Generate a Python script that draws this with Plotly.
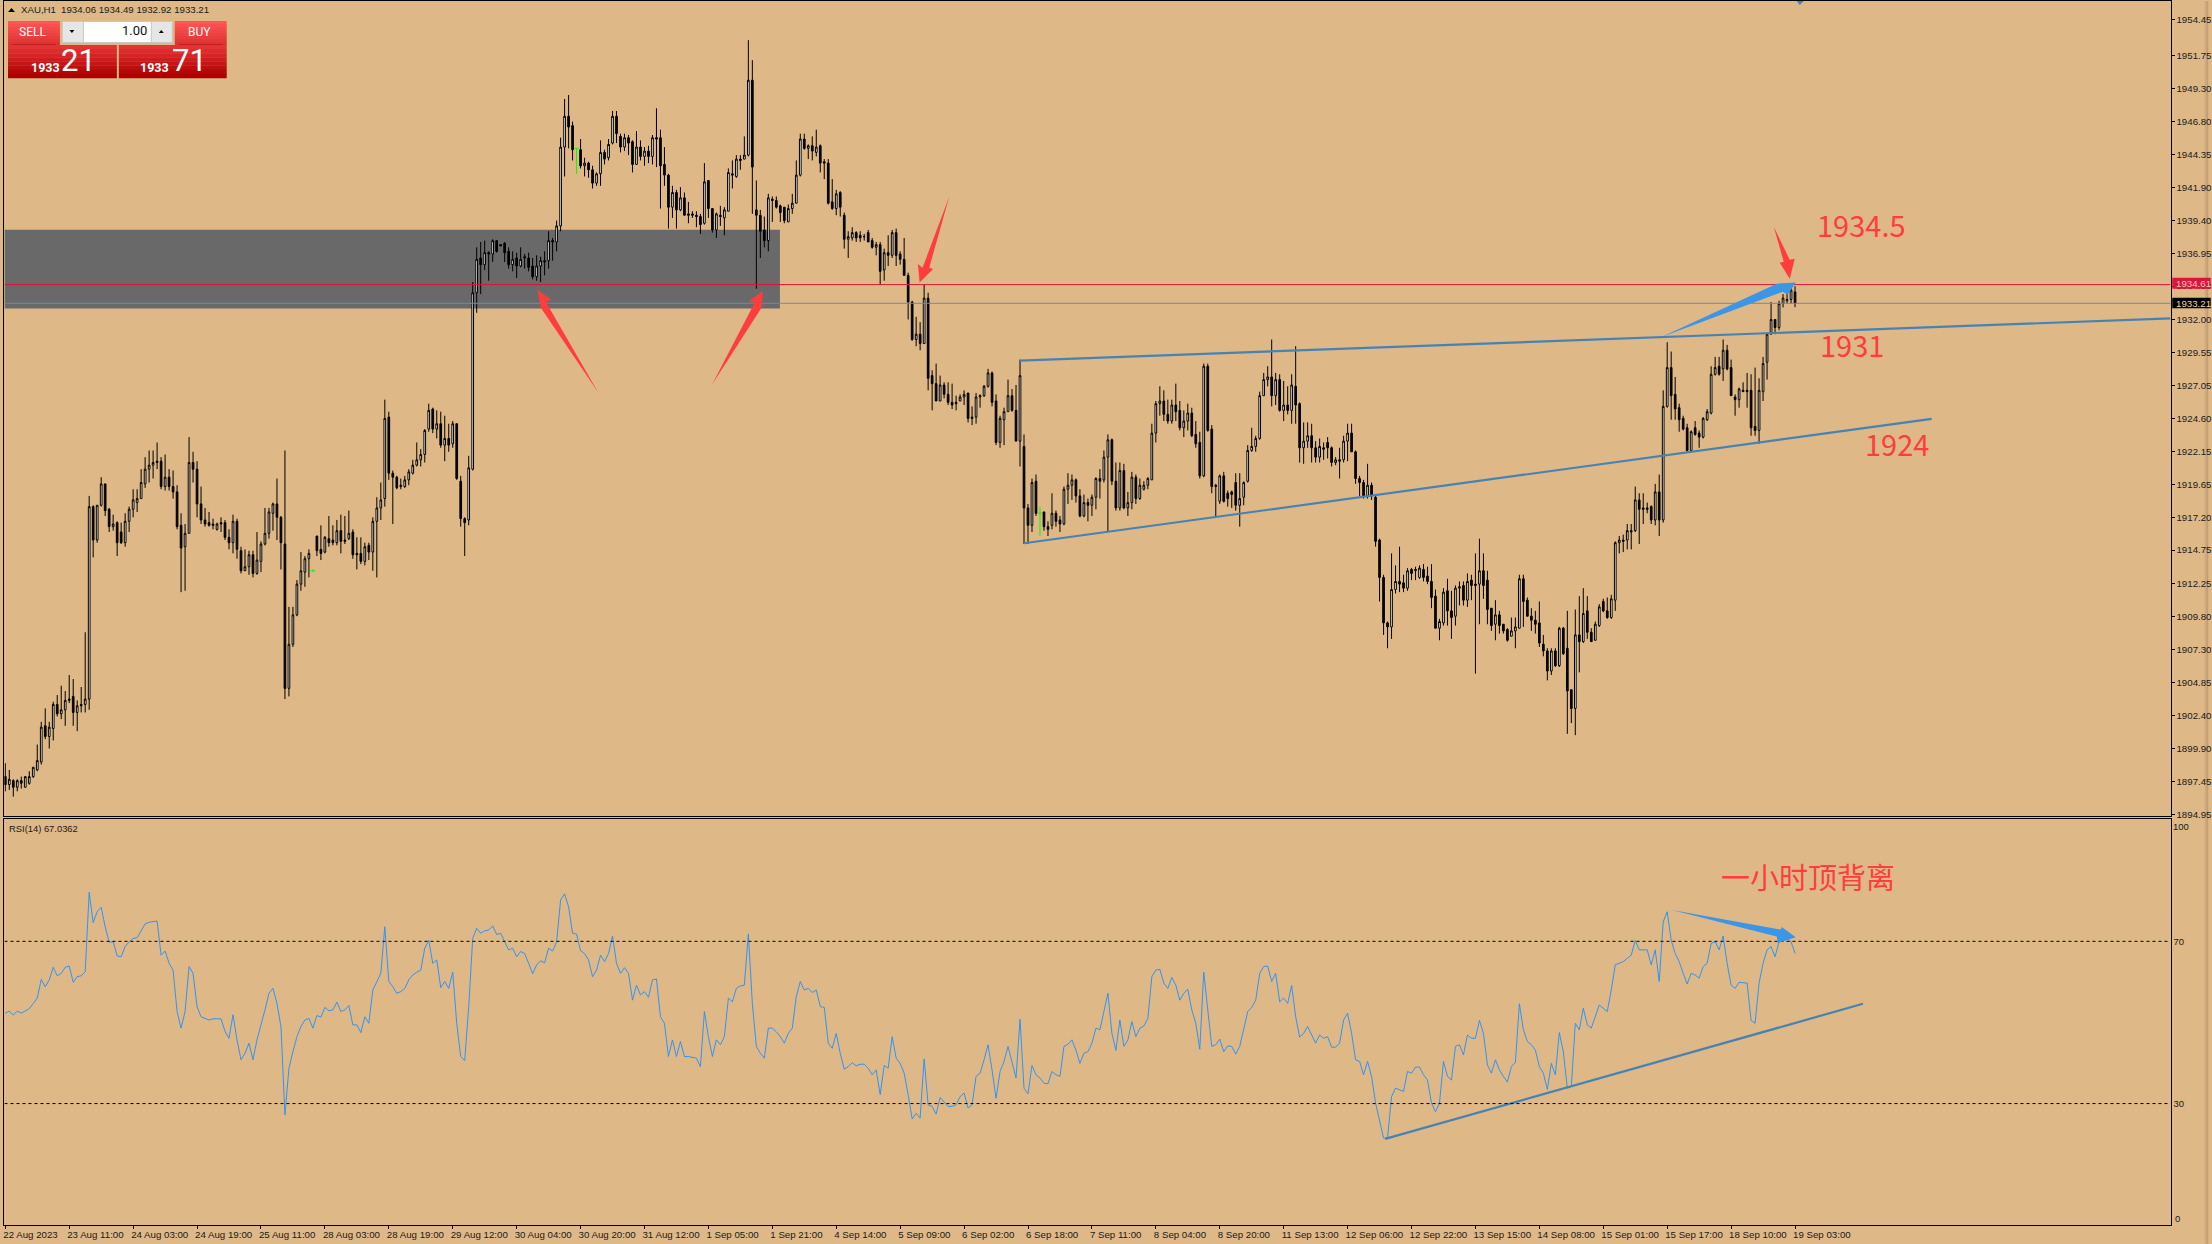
import plotly.graph_objects as go

W, H = 2212, 1244
BG = "#DEB887"

OPEN = [
1897.8,1897.2,1897.5,1897.0,1897.5,1897.0,1897.3,1897.8,1898.3,1898.9,
1901.6,1900.8,1901.4,1903.2,1902.5,1902.8,1903.5,1903.8,1902.6,1903.2,
1903.2,1903.6,1918.0,1915.5,1918.1,1919.7,1917.8,1916.5,1916.8,1916.1,
1915.3,1916.9,1917.8,1918.3,1918.6,1919.7,1920.8,1921.1,1921.4,1921.4,
1919.5,1920.2,1919.5,1919.1,1916.6,1915.0,1916.0,1921.3,1920.8,1918.2,
1917.0,1916.8,1916.7,1916.3,1916.8,1916.8,1915.7,1915.3,1916.9,1914.7,
1913.2,1913.5,1914.4,1913.0,1913.9,1915.2,1916.0,1917.5,1918.2,1917.2,
1915.2,1904.4,1907.7,1909.9,1912.2,1913.1,1914.1,1913.2,1915.8,1914.8,
1914.6,1915.6,1915.5,1915.3,1916.2,1915.5,1915.6,1916.1,1914.5,1914.5,
1913.9,1915.1,1914.6,1916.9,1917.9,1918.6,1924.7,1920.5,1920.2,1919.5,
1919.5,1920.0,1920.5,1921.1,1921.5,1921.9,1923.8,1925.3,1923.8,1924.2,
1922.6,1923.1,1922.7,1924.2,1919.9,1917.1,1917.0,1920.8,1934.0,1936.6,
1936.1,1937.0,1936.9,1937.9,1937.6,1937.7,1937.1,1936.1,1936.6,1936.0,
1936.7,1936.6,1936.0,1935.2,1936.0,1936.4,1936.4,1937.9,1937.8,1939.0,
1944.9,1947.2,1946.5,1944.8,1944.7,1943.5,1943.7,1943.2,1942.2,1942.9,
1944.5,1944.1,1945.2,1947.2,1945.7,1944.9,1945.6,1945.3,1943.6,1944.9,
1944.2,1944.6,1944.2,1945.6,1945.6,1943.6,1942.8,1940.4,1941.5,1940.2,
1941.1,1939.9,1939.9,1939.8,1939.7,1939.2,1942.4,1940.3,1938.7,1939.8,
1939.6,1940.1,1942.9,1942.7,1944.0,1944.0,1944.3,1949.9,1940.2,1939.8,
1938.7,1937.9,1941.0,1940.9,1940.5,1940.4,1939.3,1940.3,1940.7,1942.8,
1945.5,1944.8,1945.0,1944.5,1945.0,1943.8,1943.7,1940.8,1940.3,1941.5,
1939.8,1938.0,1938.1,1938.5,1938.3,1938.2,1938.5,1937.9,1937.4,1937.6,
1935.7,1937.0,1936.8,1938.5,1936.9,1936.5,1935.3,1933.3,1930.5,1930.9,
1930.2,1933.6,1927.8,1927.2,1925.9,1927.1,1926.4,1925.8,1925.8,1925.9,
1926.2,1926.5,1924.7,1924.7,1926.2,1926.3,1927.0,1928.0,1925.9,1922.8,
1924.5,1925.1,1926.3,1925.2,1922.9,1922.5,1917.9,1916.6,1919.9,1917.5,
1917.6,1916.5,1916.6,1917.5,1917.0,1916.7,1919.3,1919.6,1920.0,1918.8,
1917.3,1918.3,1918.1,1918.7,1920.1,1920.0,1921.7,1923.0,1919.9,1917.9,
1920.7,1917.9,1918.3,1920.2,1918.6,1919.3,1919.6,1920.0,1923.5,1925.7,
1925.9,1924.9,1924.4,1925.6,1925.2,1923.9,1924.4,1925.0,1923.4,1922.8,
1920.3,1928.5,1923.8,1919.6,1918.4,1920.3,1919.0,1919.1,1919.8,1918.1,
1918.7,1919.9,1922.2,1922.5,1923.1,1926.3,1927.5,1927.7,1926.3,1927.5,
1925.2,1925.6,1925.2,1927.0,1925.7,1922.4,1922.9,1923.3,1922.4,1921.7,
1922.4,1922.8,1922.4,1921.3,1921.5,1921.5,1922.9,1923.5,1922.1,1920.1,
1919.8,1918.8,1919.6,1918.7,1915.5,1912.7,1909.3,1909.0,1911.8,1912.4,
1912.3,1911.9,1913.3,1913.2,1912.7,1913.3,1912.8,1912.4,1911.3,1908.9,
1909.3,1911.7,1910.2,1909.8,1911.9,1912.1,1911.0,1912.5,1912.2,1912.2,
1913.2,1912.5,1910.4,1909.2,1909.9,1909.2,1908.8,1908.3,1908.7,1908.9,
1912.6,1911.0,1909.8,1909.5,1909.3,1907.7,1907.2,1905.7,1907.2,1906.1,
1908.9,1907.4,1904.3,1902.9,1908.4,1907.9,1910.2,1908.6,1908.0,1909.1,
1910.9,1910.2,1909.7,1911.0,1915.3,1915.5,1915.5,1916.1,1916.2,1918.5,
1917.9,1917.9,1918.0,1917.0,1919.1,1917.0,1925.5,1928.4,1926.4,1925.4,
1924.6,1923.9,1922.2,1923.9,1923.5,1923.2,1924.5,1925.0,1927.9,1928.5,
1928.3,1929.7,1928.4,1926.2,1926.0,1926.7,1926.7,1926.7,1924.0,1923.7,
1926.6,1928.8,1930.9,1932.0,1931.4,1933.2,1933.4,1933.5,1934.06]

HIGH = [
1898.8,1898.3,1897.6,1897.6,1897.8,1897.8,1898.2,1898.5,1900.2,1901.9,
1902.9,1901.9,1903.4,1903.9,1904.6,1904.2,1905.4,1905.1,1903.5,1904.5,
1908.6,1918.8,1918.1,1918.1,1920.2,1919.7,1917.9,1917.4,1916.9,1916.8,
1917.5,1918.0,1919.3,1919.3,1920.8,1921.7,1922.2,1922.2,1922.8,1921.7,
1921.9,1920.8,1920.7,1919.6,1917.5,1916.7,1923.2,1922.1,1921.4,1919.5,
1917.9,1917.6,1917.1,1916.8,1917.2,1917.0,1916.3,1917.4,1917.1,1915.0,
1914.8,1914.7,1914.7,1916.1,1915.4,1917.9,1917.9,1918.3,1920.1,1917.3,
1922.2,1910.5,1910.5,1912.5,1914.6,1914.3,1914.8,1913.3,1915.8,1916.6,
1915.8,1917.3,1916.6,1917.0,1917.4,1917.3,1917.7,1916.3,1915.7,1915.7,
1915.3,1915.3,1917.2,1918.7,1919.8,1926.0,1925.1,1920.7,1920.3,1920.1,
1920.3,1920.8,1921.5,1922.8,1922.3,1923.8,1925.7,1925.4,1925.2,1925.1,
1924.8,1924.2,1924.4,1924.2,1920.3,1917.2,1921.8,1934.8,1937.4,1937.8,
1937.9,1937.1,1938.0,1937.9,1937.6,1937.8,1937.4,1937.1,1937.0,1937.4,
1936.9,1937.0,1936.6,1936.8,1936.7,1937.1,1938.6,1938.1,1939.4,1945.6,
1948.5,1948.8,1946.8,1944.8,1945.5,1944.1,1943.8,1943.5,1943.0,1945.4,
1944.7,1945.5,1947.6,1947.6,1945.9,1945.9,1945.8,1945.4,1946.1,1945.4,
1944.9,1945.0,1945.8,1947.8,1946.2,1944.9,1942.9,1942.0,1941.7,1941.9,
1941.5,1940.8,1940.1,1940.1,1939.9,1943.7,1942.4,1940.3,1940.0,1940.5,
1940.4,1943.3,1943.9,1944.3,1944.3,1945.7,1952.9,1951.4,1942.4,1940.2,
1939.7,1941.4,1941.2,1941.2,1940.6,1940.4,1940.6,1941.4,1943.9,1945.9,
1945.9,1945.1,1945.7,1946.2,1945.1,1944.0,1944.0,1942.5,1941.7,1941.6,
1940.0,1938.6,1938.9,1938.6,1938.6,1938.4,1938.7,1938.1,1937.8,1937.8,
1937.3,1938.3,1938.7,1938.8,1937.1,1938.1,1935.5,1933.4,1932.2,1931.8,
1934.6,1934.0,1928.2,1928.7,1927.8,1927.3,1927.3,1927.2,1926.3,1926.4,
1926.7,1926.5,1925.5,1926.5,1926.4,1927.1,1928.3,1928.1,1926.4,1924.8,
1925.4,1927.5,1926.8,1927.1,1929.0,1923.4,1918.2,1920.1,1920.4,1918.0,
1917.6,1916.9,1919.0,1917.7,1917.3,1919.5,1920.5,1920.4,1920.1,1919.3,
1918.9,1918.6,1918.9,1920.2,1920.8,1922.2,1923.4,1923.1,1921.3,1921.3,
1921.2,1919.1,1920.6,1920.4,1920.1,1919.9,1920.2,1924.2,1925.9,1927.0,
1926.7,1926.0,1926.0,1927.2,1925.9,1925.2,1925.7,1925.4,1924.4,1923.6,
1928.7,1928.7,1924.1,1919.7,1920.4,1920.6,1919.2,1919.2,1920.5,1920.5,
1919.9,1922.6,1923.9,1923.3,1926.6,1928.0,1928.5,1930.5,1928.0,1927.9,
1927.4,1927.0,1927.9,1930.0,1925.8,1924.3,1924.3,1924.2,1922.9,1923.1,
1922.8,1923.2,1922.5,1921.7,1922.4,1923.3,1924.2,1924.2,1922.2,1920.3,
1920.0,1921.2,1919.8,1918.8,1915.6,1912.9,1909.4,1914.5,1913.6,1915.0,
1912.9,1913.4,1913.4,1913.5,1913.6,1913.7,1913.5,1913.7,1911.8,1909.6,
1911.9,1912.6,1911.7,1912.1,1912.4,1912.4,1913.0,1912.9,1914.5,1915.6,
1914.5,1913.2,1910.4,1911.0,1910.2,1909.2,1908.9,1909.7,1909.7,1912.9,
1912.9,1911.2,1910.4,1910.2,1910.9,1908.4,1907.4,1907.4,1907.4,1909.0,
1909.0,1910.2,1904.3,1910.3,1911.3,1911.9,1911.3,1908.9,1909.4,1910.7,
1911.1,1911.2,1911.4,1915.4,1915.8,1915.9,1916.7,1916.7,1919.5,1919.0,
1919.0,1918.3,1918.1,1919.7,1920.4,1926.7,1930.3,1929.6,1927.7,1925.7,
1924.8,1924.2,1923.7,1924.4,1923.7,1924.7,1925.3,1928.5,1929.2,1929.2,
1930.5,1930.1,1929.0,1926.4,1926.9,1927.3,1928.0,1927.9,1928.4,1927.6,
1929.2,1931.0,1933.3,1932.0,1933.4,1933.9,1934.4,1934.45,1934.49]

LOW = [
1896.7,1896.8,1896.3,1896.7,1896.9,1897.0,1897.2,1897.7,1898.2,1898.7,
1900.6,1899.9,1900.5,1902.3,1902.1,1901.6,1903.3,1901.6,1901.2,1902.6,
1902.6,1902.8,1914.2,1915.3,1918.0,1917.3,1916.1,1916.2,1914.3,1915.2,
1915.0,1916.1,1917.2,1917.6,1918.6,1919.4,1919.8,1920.1,1920.8,1919.3,
1919.2,1919.2,1918.6,1916.3,1911.6,1911.7,1916.0,1919.8,1917.2,1916.7,
1916.5,1916.5,1916.3,1916.2,1916.1,1915.5,1914.8,1914.5,1914.1,1913.0,
1913.2,1912.9,1912.7,1912.9,1913.1,1915.1,1915.6,1916.2,1915.5,1913.3,
1903.6,1903.8,1907.5,1909.8,1911.7,1912.0,1912.7,1913.1,1914.3,1914.0,
1914.5,1915.0,1915.1,1915.1,1914.5,1915.2,1915.5,1914.1,1913.3,1913.7,
1913.6,1914.0,1913.2,1912.7,1917.0,1918.0,1920.0,1916.7,1919.3,1919.3,
1919.4,1919.6,1920.4,1921.0,1921.0,1921.3,1923.6,1923.5,1923.1,1922.4,
1921.4,1922.1,1922.4,1920.0,1916.5,1914.3,1916.6,1920.7,1932.5,1933.9,
1935.7,1934.9,1936.3,1937.0,1937.5,1936.3,1935.8,1935.6,1935.1,1935.9,
1935.8,1935.6,1935.0,1934.9,1934.8,1935.3,1935.8,1936.4,1937.1,1938.6,
1942.7,1944.8,1943.9,1942.9,1943.3,1942.7,1942.6,1941.8,1942.0,1942.0,
1943.6,1943.9,1945.1,1945.2,1944.5,1944.6,1944.3,1943.0,1943.6,1943.9,
1943.5,1943.7,1943.6,1943.4,1940.3,1942.0,1938.8,1939.6,1938.8,1940.1,
1939.8,1939.2,1939.6,1938.9,1938.4,1939.1,1939.6,1938.5,1938.1,1939.0,
1938.3,1940.1,1941.8,1942.6,1943.2,1944.0,1944.2,1939.9,1934.3,1936.6,
1937.4,1937.1,1939.3,1940.3,1939.3,1939.2,1939.3,1939.9,1940.7,1942.7,
1944.7,1944.0,1943.9,1944.2,1943.0,1942.5,1940.6,1940.2,1939.8,1939.7,
1937.3,1936.6,1937.9,1937.8,1937.8,1937.9,1937.8,1937.3,1936.8,1934.6,
1934.9,1936.0,1936.6,1936.0,1936.1,1935.3,1932.0,1930.4,1930.0,1929.7,
1930.2,1926.7,1925.2,1925.9,1925.9,1926.1,1925.6,1925.3,1925.2,1925.9,
1925.6,1924.3,1924.1,1924.2,1925.4,1926.2,1926.9,1925.5,1922.6,1922.4,
1922.6,1925.1,1925.1,1922.9,1921.0,1915.2,1915.2,1916.1,1917.3,1915.8,
1916.2,1915.8,1916.3,1916.5,1916.1,1916.6,1918.2,1918.5,1918.3,1917.2,
1917.2,1916.9,1917.3,1917.8,1918.6,1919.8,1916.1,1919.6,1917.7,1917.7,
1917.8,1917.3,1917.8,1918.2,1918.5,1919.2,1919.3,1920.0,1922.8,1924.8,
1924.4,1924.2,1924.2,1924.4,1923.7,1923.2,1923.7,1923.2,1922.4,1920.1,
1920.2,1923.6,1919.0,1917.2,1918.2,1918.3,1918.0,1917.9,1917.7,1916.5,
1918.1,1919.8,1922.1,1922.1,1923.0,1926.3,1927.0,1925.5,1925.6,1925.1,
1924.4,1924.9,1924.2,1924.2,1921.3,1921.2,1922.4,1921.3,1921.3,1921.3,
1921.5,1921.6,1921.0,1921.1,1920.1,1921.3,1921.4,1922.1,1919.7,1918.8,
1918.6,1918.6,1918.5,1915.0,1910.9,1908.4,1907.4,1908.1,1911.5,1911.6,
1911.6,1911.7,1912.5,1912.5,1912.6,1912.4,1912.2,1910.4,1908.9,1908.0,
1909.1,1909.1,1908.1,1909.1,1910.6,1910.6,1910.5,1911.0,1905.5,1909.2,
1911.1,1909.2,1908.7,1908.0,1908.5,1908.5,1907.9,1908.3,1907.4,1908.9,
1909.0,1909.8,1908.7,1908.5,1907.5,1906.8,1905.0,1905.4,1906.0,1906.0,
1906.9,1901.0,1901.8,1900.9,1905.6,1907.8,1908.1,1907.9,1908.0,1909.0,
1910.1,1909.6,1909.6,1910.2,1914.5,1914.6,1914.8,1914.8,1916.1,1915.2,
1916.7,1917.5,1916.7,1916.6,1915.8,1916.8,1925.4,1924.5,1924.5,1923.6,
1923.7,1922.1,1922.2,1923.3,1922.4,1923.1,1924.4,1924.9,1927.8,1927.8,
1927.4,1928.2,1926.3,1924.8,1925.4,1926.6,1925.4,1923.3,1923.3,1922.7,
1925.9,1927.5,1930.9,1930.9,1931.2,1932.9,1933.2,1933.2,1932.92]

CLOSE = [
1897.2,1897.6,1897.0,1897.5,1897.3,1897.8,1897.8,1898.5,1899.0,1901.5,
1900.8,1901.5,1903.2,1902.5,1902.8,1903.5,1903.6,1902.6,1903.1,1903.1,
1903.6,1918.0,1915.5,1918.1,1919.7,1917.7,1916.5,1916.7,1915.3,1915.3,
1916.9,1917.8,1918.5,1918.6,1919.8,1920.8,1921.1,1921.3,1921.3,1919.5,
1920.2,1919.5,1919.1,1916.5,1914.9,1916.0,1921.3,1920.8,1918.2,1917.0,
1916.7,1916.6,1916.6,1916.7,1916.7,1915.7,1915.3,1916.9,1914.8,1913.2,
1913.5,1914.4,1913.0,1914.0,1915.2,1916.0,1917.6,1918.2,1917.2,1915.3,
1904.4,1907.7,1909.9,1912.2,1913.2,1914.1,1914.5,1913.2,1914.7,1914.5,
1915.7,1915.3,1915.3,1916.2,1915.4,1915.4,1916.0,1914.4,1914.4,1913.9,
1915.0,1914.6,1916.9,1917.9,1918.5,1924.6,1920.5,1920.2,1919.4,1919.6,
1920.0,1920.6,1921.1,1921.5,1921.9,1923.7,1925.2,1923.8,1924.2,1922.6,
1923.1,1922.6,1924.2,1920.1,1917.1,1916.8,1920.9,1934.0,1936.5,1936.1,
1937.0,1936.9,1937.9,1937.1,1937.5,1937.0,1936.1,1936.5,1936.0,1936.5,
1936.6,1935.9,1935.2,1936.0,1936.4,1936.3,1937.9,1937.8,1939.0,1944.9,
1947.2,1946.4,1944.7,1944.8,1943.5,1943.7,1943.2,1942.2,1942.9,1944.5,
1944.0,1945.1,1947.2,1945.9,1944.9,1945.6,1945.2,1943.6,1944.9,1944.2,
1944.6,1944.2,1945.6,1945.5,1943.5,1942.8,1940.4,1941.5,1940.2,1941.1,
1939.8,1939.8,1939.8,1939.7,1939.1,1942.3,1940.3,1938.7,1939.9,1939.7,
1940.2,1943.0,1942.8,1944.0,1943.9,1944.3,1949.9,1943.4,1939.8,1938.6,
1937.9,1941.1,1940.9,1940.4,1940.0,1939.4,1940.3,1940.7,1942.8,1945.5,
1944.8,1945.0,1944.6,1944.9,1943.7,1943.7,1940.7,1940.3,1941.4,1940.4,
1938.0,1938.2,1938.5,1938.1,1938.1,1938.2,1937.8,1937.4,1937.6,1935.6,
1937.0,1936.8,1938.5,1936.8,1936.5,1935.3,1933.3,1930.5,1930.9,1930.2,
1933.6,1927.6,1927.2,1925.9,1927.1,1926.4,1925.8,1925.6,1925.7,1926.2,
1926.4,1924.6,1924.6,1926.2,1926.3,1927.0,1928.0,1925.8,1922.8,1924.6,
1925.1,1926.3,1925.2,1922.9,1927.8,1917.9,1916.6,1919.8,1917.5,1917.5,
1916.5,1916.3,1917.5,1916.9,1916.7,1919.3,1919.6,1920.0,1918.8,1917.3,
1918.3,1918.1,1918.7,1920.1,1919.9,1921.7,1923.0,1919.9,1917.9,1920.7,
1917.9,1918.3,1920.2,1918.6,1919.6,1919.6,1920.1,1923.5,1925.7,1925.9,
1924.9,1924.4,1925.6,1925.1,1923.9,1924.4,1925.0,1923.3,1922.7,1920.3,
1928.5,1923.7,1919.5,1919.5,1920.3,1918.4,1918.6,1918.9,1918.1,1918.6,
1919.8,1922.2,1922.5,1923.1,1926.3,1927.5,1927.7,1926.3,1927.5,1925.2,
1925.6,1925.2,1927.1,1925.6,1922.4,1922.9,1923.3,1922.4,1921.7,1922.5,
1922.3,1922.4,1921.3,1921.5,1921.4,1922.9,1923.5,1922.1,1920.1,1919.8,
1918.8,1919.6,1918.8,1915.4,1912.7,1909.3,1909.0,1911.8,1912.4,1912.2,
1911.9,1913.2,1913.0,1913.3,1913.4,1912.7,1912.4,1911.2,1908.9,1909.4,
1911.6,1910.2,1909.7,1911.9,1912.0,1911.0,1912.4,1912.1,1912.1,1913.2,
1912.1,1910.3,1909.1,1909.9,1909.1,1908.7,1908.0,1908.7,1909.0,1912.6,
1910.9,1909.8,1909.5,1909.2,1907.8,1907.2,1905.7,1907.2,1906.1,1908.9,
1907.0,1904.2,1902.9,1908.4,1907.9,1910.0,1908.6,1907.9,1909.2,1910.5,
1910.2,1909.7,1911.1,1915.3,1915.5,1915.4,1916.2,1916.2,1918.5,1917.8,
1917.8,1917.8,1917.0,1919.1,1917.0,1925.5,1928.4,1926.3,1925.3,1924.5,
1923.8,1922.2,1923.6,1923.4,1923.2,1924.6,1925.1,1927.9,1928.4,1927.9,
1929.7,1928.3,1926.3,1926.0,1926.8,1926.6,1926.6,1923.9,1923.7,1926.7,
1928.7,1930.9,1932.0,1931.4,1933.2,1933.6,1933.5,1934.2,1933.21]

GREEN_BARS = [77, 143, 259]

RSI = [
52.3,52.8,51.8,52.8,52.3,52.8,53.4,54.7,56.0,60.6,58.8,60.5,63.6,61.5,62.1,63.6,63.9,59.9,61.3,61.5,
62.5,82.1,74.6,77.3,78.4,73.6,69.8,69.9,66.4,66.2,68.7,69.9,70.7,70.9,72.8,74.3,74.7,74.8,75.0,66.6,
67.6,64.6,62.9,52.7,48.6,52.7,63.8,62.1,53.9,51.4,50.9,50.6,50.9,50.9,50.9,47.8,46.1,51.9,45.7,40.8,
42.4,44.9,40.8,45.7,49.8,53.1,57.2,58.4,54.7,49.0,27.2,38.7,42.8,46.5,49.0,50.6,51.0,48.6,51.7,51.3,
53.7,52.9,53.1,55.0,52.7,53.1,54.2,49.4,49.4,47.5,51.4,49.8,58.0,60.1,62.1,73.6,60.1,58.8,57.2,57.6,
58.4,60.5,61.7,62.4,62.9,68.3,70.3,64.6,65.4,58.6,60.1,58.4,62.4,49.8,41.6,40.6,53.9,70.7,73.2,72.0,
72.6,72.8,73.8,71.7,72.0,69.9,67.9,68.3,66.2,67.5,67.0,64.6,62.0,64.2,65.2,64.7,68.3,67.6,69.9,80.2,
81.7,78.5,72.0,71.8,67.7,67.0,65.4,61.3,62.9,66.6,65.0,67.0,71.3,64.6,62.1,63.5,62.1,55.5,59.2,56.8,
57.6,56.2,60.5,60.7,51.4,49.8,41.6,45.7,41.6,45.3,41.6,41.6,41.4,41.2,39.1,52.7,46.5,41.6,45.7,44.5,
46.5,56.0,55.1,58.4,59.0,59.2,71.8,54.7,44.1,42.4,41.2,48.6,48.6,47.7,46.5,44.9,47.3,48.6,56.4,60.1,
58.0,58.4,57.4,58.0,53.9,53.7,44.9,43.6,47.3,42.4,38.5,39.1,40.1,39.3,39.7,39.7,38.7,37.1,38.3,32.2,
39.4,38.7,46.5,41.2,39.9,37.5,32.2,26.2,27.6,26.4,41.0,29.7,29.3,27.4,31.5,30.5,29.3,29.3,29.7,31.7,
32.6,28.9,29.7,36.7,37.5,40.8,44.5,38.3,31.3,37.9,40.4,44.1,39.9,36.3,50.8,33.8,32.4,39.4,37.1,36.3,
35.0,34.9,37.9,37.1,36.7,44.1,44.6,45.7,43.2,39.9,42.4,42.8,44.9,48.6,48.2,
53.1,57.2,47.3,43.1,50.6,44.1,45.7,50.2,46.5,48.6,49.1,51.0,61.3,62.9,63.1,59.7,58.4,61.1,59.2,55.5,
57.2,58.2,53.1,49.8,43.4,62.4,53.1,44.1,44.5,45.9,42.8,44.2,44.1,42.2,44.1,48.2,52.7,53.7,55.5,62.1,
63.8,63.9,60.1,62.1,55.1,56.0,54.7,59.1,51.4,46.4,47.3,49.0,46.9,44.9,46.9,46.1,46.5,43.9,43.9,44.9,
50.6,52.3,47.3,40.8,40.4,37.1,40.4,36.7,30.1,26.0,21.5,21.5,31.7,33.8,33.4,33.0,37.9,37.5,39.0,39.0,
37.1,35.8,30.1,28.0,30.1,40.4,36.7,35.8,44.1,44.5,42.0,46.9,46.1,46.1,50.5,47.3,39.5,37.5,40.8,38.3,
36.7,35.3,39.1,40.1,54.6,48.2,45.3,44.5,43.2,39.1,37.5,33.5,39.9,37.1,47.5,42.8,33.8,34.2,49.8,48.2,
53.5,49.4,48.6,51.4,54.3,53.5,52.7,58.0,64.2,64.6,65.0,65.8,66.6,70.2,67.9,67.9,67.9,64.2,67.9,60.1,
74.8,77.3,70.3,67.0,65.0,62.1,59.5,62.1,61.7,60.9,63.8,64.6,69.5,69.9,67.9,71.3,64.6,59.2,58.4,59.9,
59.8,59.7,50.5,49.8,59.7,64.6,67.9,68.7,66.2,69.9,70.7,70.7,69.9,67.04]

TIME_LABELS = ["22 Aug 2023","23 Aug 11:00","24 Aug 03:00","24 Aug 19:00","25 Aug 11:00","28 Aug 03:00",
"28 Aug 19:00","29 Aug 12:00","30 Aug 04:00","30 Aug 20:00","31 Aug 12:00","1 Sep 05:00","1 Sep 21:00",
"4 Sep 14:00","5 Sep 09:00","6 Sep 02:00","6 Sep 18:00","7 Sep 11:00","8 Sep 04:00","8 Sep 20:00",
"11 Sep 13:00","12 Sep 06:00","12 Sep 22:00","13 Sep 15:00","14 Sep 08:00","15 Sep 01:00","15 Sep 17:00",
"18 Sep 10:00","19 Sep 03:00"]

PRICE_TICKS = [1954.45,1951.75,1949.30,1946.80,1944.35,1941.90,1939.40,1936.95,1934.50,1932.00,1929.55,
1927.05,1924.60,1922.15,1919.65,1917.20,1914.75,1912.25,1909.80,1907.30,1904.85,1902.40,1899.90,1897.45,1894.95]

ASK_LEVEL, BID_LEVEL = 1934.61, 1933.21

SX, SY = 1.001, 1.003


def px(x):
    return x * SX / W


def py(y):
    return 1 - y * SY / H


bars = list(range(len(OPEN)))
main_bars = [i for i in bars if i not in GREEN_BARS]

fig = go.Figure()
fig.add_trace(go.Candlestick(
    x=main_bars,
    open=[OPEN[i] for i in main_bars], high=[HIGH[i] for i in main_bars],
    low=[LOW[i] for i in main_bars], close=[CLOSE[i] for i in main_bars],
    increasing=dict(line=dict(color="black", width=1), fillcolor="white"),
    decreasing=dict(line=dict(color="black", width=1), fillcolor="black"),
    whiskerwidth=0, hoverinfo="skip", showlegend=False, xaxis="x", yaxis="y"))

gx, gy = [], []
for i in GREEN_BARS:
    gx += [i, i, None]
    gy += [LOW[i], HIGH[i], None]
fig.add_trace(go.Scatter(x=gx, y=gy, mode="lines", line=dict(color="#00FF00", width=1),
                         hoverinfo="skip", showlegend=False, xaxis="x", yaxis="y"))
fig.add_trace(go.Scatter(x=GREEN_BARS, y=[CLOSE[i] for i in GREEN_BARS], mode="markers",
                         marker=dict(symbol="line-ew", size=3, line=dict(color="#00FF00", width=1)),
                         hoverinfo="skip", showlegend=False, xaxis="x", yaxis="y"))
fig.add_trace(go.Scatter(x=bars, y=RSI, mode="lines", line=dict(color="#1E90FF", width=0.9),
                         hoverinfo="skip", showlegend=False, xaxis="x2", yaxis="y2"))

shapes = []


def paper_rect(x0, y0, x1, y1, color, layer="above"):
    shapes.append(dict(type="rect", xref="paper", yref="paper", x0=px(x0), x1=px(x1), y0=py(y0), y1=py(y1),
                       fillcolor=color, line=dict(width=0), layer=layer))


def poly(points, color):
    path = "M " + " L ".join(f"{px(a):.5f},{py(b):.5f}" for a, b in points) + " Z"
    shapes.append(dict(type="path", xref="paper", yref="paper", path=path, fillcolor=color,
                       line=dict(width=0), layer="above"))


def mix(c1, c2, t):
    a = [int(c1[k:k + 2], 16) for k in (1, 3, 5)]
    b = [int(c2[k:k + 2], 16) for k in (1, 3, 5)]
    return "#" + "".join(f"{round(p + (q - p) * t):02x}" for p, q in zip(a, b))


def gradient(x0, y0, x1, y1, top, bottom, steps=8):
    h = (y1 - y0) / steps
    for s in range(steps):
        paper_rect(x0, y0 + s * h, x1, y0 + (s + 1) * h + 0.3, mix(top, bottom, s / (steps - 1)))


# supply zone, behind the candles
shapes.append(dict(type="rect", xref="x", yref="y", x0=-0.2, x1=193.9, y0=1932.83, y1=1938.71,
                   fillcolor="#696969", line=dict(width=0), layer="below"))
# price lines
for level, colr in ((ASK_LEVEL, "#DC143C"), (BID_LEVEL, "#778899")):
    shapes.append(dict(type="line", xref="x", yref="y", x0=-0.2, x1=542, y0=level, y1=level,
                       line=dict(color=colr, width=1)))
# trend lines
TREND = "#4682B4"
shapes.append(dict(type="line", xref="x", yref="y", x0=254, x1=542, y0=1928.92, y1=1932.08,
                   line=dict(color=TREND, width=2.2)))
shapes.append(dict(type="line", xref="x", yref="y", x0=255, x1=482.2, y0=1915.26, y1=1924.56,
                   line=dict(color=TREND, width=2.2)))
shapes.append(dict(type="line", xref="x2", yref="y2", x0=345.4, x1=465, y0=21.3, y1=54.6,
                   line=dict(color=TREND, width=2.2)))
# RSI levels
for level in (70, 30):
    shapes.append(dict(type="line", xref="x2", yref="y2", x0=-0.2, x1=542, y0=level, y1=level,
                       line=dict(color="black", width=1, dash="dot")))

RED = "#FF3D3D"
BLUE = "#3C96E6"
poly([(537, 289), (551.3, 299.3), (545.3, 300.7), (598, 392), (540.7, 307.3)], RED)
poly([(763, 290), (748.7, 300.7), (754.7, 301.7), (712, 384), (761.3, 307.3)], RED)
poly([(919.8, 281.7), (918, 263.3), (922.7, 267), (949.5, 195.7), (929.4, 267), (933.2, 268.3)], RED)
poly([(1791, 278), (1781, 262), (1785, 261), (1775, 226), (1791, 259), (1796, 258)], RED)
poly([(1662, 336.7), (1778, 283), (1797, 281.7), (1789, 294), (1784, 291)], BLUE)
poly([(1673, 910), (1782, 929.5), (1783, 927), (1797, 937.3), (1779, 943), (1778, 936.5)], BLUE)
poly([(1798, 0), (1805, 0), (1801, 4)], TREND)

# price tags
paper_rect(2174, 277, 2212.5, 288, "#DC143C")
paper_rect(2174, 297, 2212.5, 307.5, "#000000")

# window edge shading, under the tick labels
for k, c in enumerate(["#D6B182", "#CDA97C", "#C4A176", "#BA9870"]):
    paper_rect(2206 + k, 0, 2207 + k, H, c, layer="below")

# trade panel
gradient(7, 20, 59, 44, "#FF5555", "#DD3333")
gradient(174, 20, 226, 44, "#FF5555", "#DD3333")
gradient(7, 44, 116, 77, "#E23434", "#AE0000")
gradient(118, 44, 226, 77, "#E23434", "#AE0000")
paper_rect(61, 20, 172, 42, "#C8C8C8")
paper_rect(62, 21, 82, 41, "#E6E6E6")
paper_rect(151, 21, 171, 41, "#E6E6E6")
paper_rect(83, 21, 150, 41, "#FFFFFF")
poly([(68.5, 29), (73.5, 29), (71, 32)], "#000000")
poly([(158, 32), (163, 32), (160.5, 29)], "#000000")
paper_rect(11, 43.3, 55, 44, "#B51A1A")
paper_rect(178, 43.3, 222, 44, "#B51A1A")
poly([(7, 11), (14, 11), (10.5, 7)], "#000000")

annotations = []
TXT = "Liberation Sans"


def label(text, x, y, size, color="#1A1A1A", anchor="left", font=TXT):
    annotations.append(dict(text=text, x=px(x), y=py(y), xref="paper", yref="paper", xanchor=anchor,
                            yanchor="middle", showarrow=False, borderpad=0,
                            font=dict(family=font, size=size, color=color)))


label("XAU,H1", 19, 9, 9.7)
label("1934.06 1934.49 1932.92 1933.21", 59, 9, 9.7)
label("RSI(14) 67.0362", 7.5, 828, 9.4)
label("SELL", 32, 31, 12, "#FFFFFF", "center", "Roboto")
label("BUY", 199, 31, 12, "#FFFFFF", "center", "Roboto")
label("1.00", 147, 30, 13, "#111111", "right", "Roboto")
label("<b>1933</b>", 44.5, 67, 12.5, "#FFFFFF", "center", "Roboto")
label("21", 78, 60, 31, "#FFFFFF", "center", "Roboto")
label("<b>1933</b>", 154, 67, 12.5, "#FFFFFF", "center", "Roboto")
label("71", 189, 60, 31, "#FFFFFF", "center", "Roboto")
label("1934.61", 2177, 283, 9.7, "#F2C2BE")
label("1933.21", 2177, 302.5, 9.7, "#E8D8B0")
label("100", 2174, 826, 9.5)
label("0", 2176, 1219, 9.5)
CJK = "Noto Sans CJK SC"
label("1934.5", 1863, 223, 29, RED, "center", CJK)
label("1931", 1853, 343, 29, RED, "center", CJK)
label("1924", 1898, 442, 29, RED, "center", CJK)
label("一小时顶背离", 1809, 875.5, 29, RED, "center", CJK)

axis_common = dict(showline=True, linecolor="black", linewidth=1, mirror=True, showgrid=False, zeroline=False)
tick_font = dict(family=TXT, size=9.7, color="#1A1A1A")

fig.update_layout(
    width=W, height=H, margin=dict(l=0, r=0, t=0, b=0, pad=0), autosize=False,
    paper_bgcolor=BG, plot_bgcolor=BG, showlegend=False, boxgap=0.4, hovermode=False,
    xaxis=dict(domain=[px(3.5), px(2172.3)], range=[-0.2, 542], anchor="y", showticklabels=False,
               rangeslider=dict(visible=False), ticks="", **axis_common),
    yaxis=dict(domain=[py(816), py(0.5)], range=[1894.84, 1955.79], anchor="x", side="right",
               tickmode="array", tickvals=PRICE_TICKS, ticktext=[f"{t:.2f}" for t in PRICE_TICKS],
               ticks="outside", ticklen=3, tickcolor="black", tickwidth=1, tickfont=tick_font, **axis_common),
    xaxis2=dict(domain=[px(3.5), px(2172.3)], range=[-0.2, 542], anchor="y2", side="bottom",
                tickmode="array", tickvals=list(range(0, len(OPEN), 16)), ticktext=TIME_LABELS,
                ticks="outside", ticklen=3, tickcolor="black", tickwidth=1, tickangle=0,
                ticklabelposition="outside right", ticklabelshift=-3, tickfont=tick_font, **axis_common),
    yaxis2=dict(domain=[py(1225.3), py(818.7)], range=[0.05, 100.2], anchor="x2", side="right",
                tickmode="array", tickvals=[70, 30], ticktext=["70", "30"], ticks="",
                tickfont=dict(family=TXT, size=9.5, color="#1A1A1A"), **axis_common),
    shapes=shapes, annotations=annotations,
)

fig.write_html("out.html", config=dict(displayModeBar=False, staticPlot=True),
               post_script="document.body.style.margin='0';document.body.style.overflow='hidden';"
                           "document.body.style.background='" + BG + "';")
